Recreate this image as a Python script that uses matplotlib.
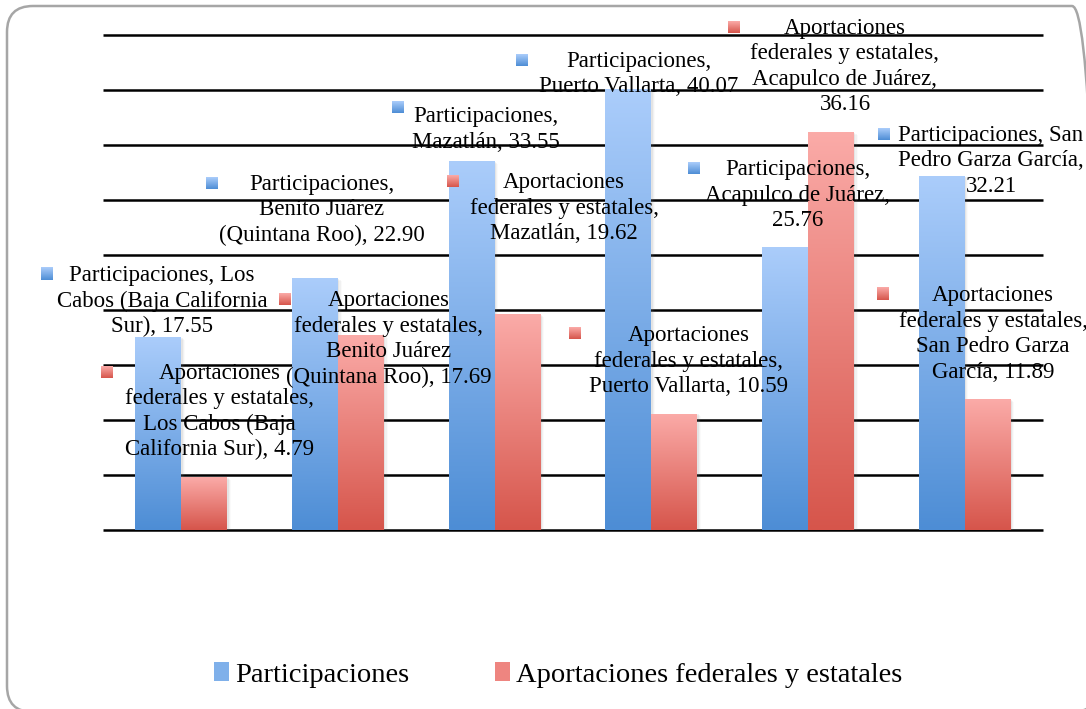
import numpy as np
import matplotlib
matplotlib.use("Agg")
import matplotlib.pyplot as plt
from matplotlib.patches import FancyBboxPatch, Patch, Rectangle
from matplotlib.colors import LinearSegmentedColormap

# ---------------- data ----------------
categories = ["Los Cabos (Baja California Sur)", "Benito Juárez (Quintana Roo)",
              "Mazatlán", "Puerto Vallarta", "Acapulco de Juárez",
              "San Pedro Garza García"]
series_names = ["Participaciones", "Aportaciones federales y estatales"]
participaciones = [17.55, 22.90, 33.55, 40.07, 25.76, 32.21]
aportaciones = [4.79, 17.69, 19.62, 10.59, 36.16, 11.89]

# wrapped label text (as shown in the chart), values filled from the data
part_label_tpl = ["Participaciones, Los\nCabos (Baja California\nSur), {v}",
                  "Participaciones,\nBenito Juárez\n(Quintana Roo), {v}",
                  "Participaciones,\nMazatlán, {v}",
                  "Participaciones,\nPuerto Vallarta, {v}",
                  "Participaciones,\nAcapulco de Juárez,\n{v}",
                  "Participaciones, San\nPedro Garza García,\n{v}"]
apor_label_tpl = ["Aportaciones\nfederales y estatales,\nLos Cabos (Baja\nCalifornia Sur), {v}",
                  "Aportaciones\nfederales y estatales,\nBenito Juárez\n(Quintana Roo), {v}",
                  "Aportaciones\nfederales y estatales,\nMazatlán, {v}",
                  "Aportaciones\nfederales y estatales,\nPuerto Vallarta, {v}",
                  "Aportaciones\nfederales y estatales,\nAcapulco de Juárez,\n{v}",
                  "Aportaciones\nfederales y estatales,\nSan Pedro Garza\nGarcía, {v}"]

# ---------------- layout (label placement, data coords) ----------------
part_text_pos = [(-0.123, 20.8), (0.898, 29.1), (1.945, 36.4), (2.921, 41.45), (3.936, 30.45), (5.168, 33.55)]
part_key_pos = [(-0.857, 23.27), (0.196, 31.55), (1.383, 38.45), (2.174, 42.73), (3.272, 32.91), (4.485, 36.0)]
apor_text_pos = [(0.245, 10.77), (1.325, 17.36), (2.443, 29.23), (3.240, 15.36), (4.236, 42.14), (5.181, 17.82)]
apor_key_pos = [(-0.474, 14.36), (0.662, 21.0), (1.734, 31.73), (2.513, 17.91), (3.528, 45.73), (4.479, 21.45)]

blue_top, blue_bot = "#abcdfb", "#4d8dd5"
red_top, red_bot = "#fbaba8", "#d6554b"
blue_cmap = LinearSegmentedColormap.from_list("b", [blue_bot, blue_top])
red_cmap = LinearSegmentedColormap.from_list("r", [red_bot, red_top])

FONT = "Liberation Serif"

fig = plt.figure(figsize=(10.86, 7.09), dpi=100)

# background axes in pixel units for the rounded frame
bg = fig.add_axes([0, 0, 1, 1], zorder=-1)
bg.set_xlim(0, 1086)
bg.set_ylim(0, 709)
bg.axis("off")
bg.add_patch(FancyBboxPatch((7, -3), 1091, 706, boxstyle="round,pad=0,rounding_size=26",
                            facecolor="none", edgecolor="#a6a6a6", linewidth=1.8,
                            clip_on=False))

ax = fig.add_axes([103 / 1086, (709 - 530) / 709, 940 / 1086, 495 / 709])
ax.patch.set_alpha(0)

x = np.arange(len(categories))
w = 0.2936
XL = (-0.5, len(categories) - 0.5)
YL = (0, 45)

ax.tick_params(left=False, bottom=False, labelleft=False, labelbottom=False)
for s in ax.spines.values():
    s.set_visible(False)

# horizontal gridlines
ax.hlines(np.arange(0, 46, 5), XL[0], XL[1], color="black", linewidth=1.8,
          zorder=1, clip_on=False)

grad = np.linspace(0, 1, 256).reshape(-1, 1)


def gradient_bars(xs, vals, cmap):
    bars = ax.bar(xs, vals, width=w, facecolor="none", edgecolor="none", zorder=3)
    for b in bars:
        x0, y0 = b.get_x(), b.get_y()
        bw, bh = b.get_width(), b.get_height()
        # soft shadow
        for k, a in enumerate([0.10, 0.07, 0.04]):
            d = 0.008 * (k + 1)
            ax.add_patch(Rectangle((x0 + d, y0), bw, bh - 0.08 * (k + 1),
                                   facecolor="gray", edgecolor="none", alpha=a, zorder=2))
        im = ax.imshow(grad, cmap=cmap, aspect="auto", origin="lower",
                       extent=(x0, x0 + bw, y0, y0 + bh), zorder=3.5)
        im.set_clip_path(b)
    return bars


gradient_bars(x - w / 2, participaciones, blue_cmap)
gradient_bars(x + w / 2, aportaciones, red_cmap)

# data labels with legend keys
kw_px = 12 / 156.67
kh = 12 / 11.0


def key(pos, cmap):
    kx, ky = pos
    im = ax.imshow(grad, cmap=cmap, aspect="auto", origin="lower",
                   extent=(kx - kw_px / 2, kx + kw_px / 2, ky - kh / 2, ky + kh / 2),
                   zorder=5)
    im.set_clip_on(False)


for i in range(len(categories)):
    ax.text(*part_text_pos[i], part_label_tpl[i].format(v=f"{participaciones[i]:.2f}"),
            ha="center", va="center", fontsize=16.5, family=FONT, linespacing=1.28,
            zorder=6, clip_on=False)
    key(part_key_pos[i], blue_cmap)
    ax.text(*apor_text_pos[i], apor_label_tpl[i].format(v=f"{aportaciones[i]:.2f}"),
            ha="center", va="center", fontsize=16.5, family=FONT, linespacing=1.28,
            zorder=6, clip_on=False)
    key(apor_key_pos[i], red_cmap)

ax.set_xlim(*XL)
ax.set_ylim(*YL)

# legend
handles = [Patch(facecolor="#7fb0ea", edgecolor="none"),
           Patch(facecolor="#ee8580", edgecolor="none")]
fig.legend(handles, series_names, loc="center", bbox_to_anchor=(558 / 1086, (709 - 675) / 709),
           ncol=2, frameon=False, prop={"family": FONT, "size": 20.5},
           handlelength=0.55, handleheight=0.65, handletextpad=0.2, columnspacing=3.0)

fig.savefig("out.png", dpi=100)
